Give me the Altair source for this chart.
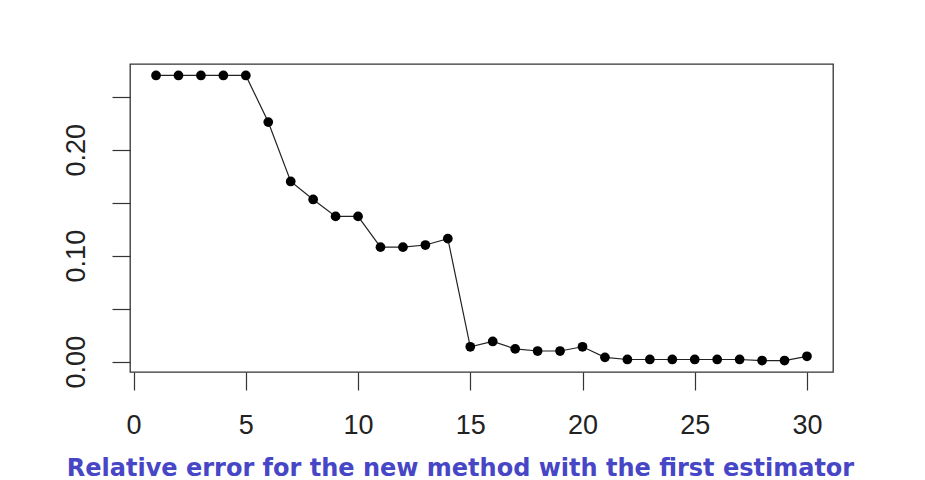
import altair as alt
import pandas as pd

index = list(range(1, 31))
rel_error = [0.270, 0.270, 0.270, 0.270, 0.270, 0.226, 0.170, 0.153, 0.137, 0.137,
             0.108, 0.108, 0.110, 0.116, 0.014, 0.019, 0.012, 0.010, 0.010, 0.014,
             0.004, 0.002, 0.002, 0.002, 0.002, 0.002, 0.002, 0.001, 0.001, 0.005]
x_ticks = [0, 5, 10, 15, 20, 25, 30]
y_ticks = [0.0, 0.05, 0.10, 0.15, 0.20, 0.25]
caption = "Relative error for the new method with the first estimator"

df = pd.DataFrame({"i": index, "err": rel_error})

axis_color = "#333333"
x_enc = alt.X(
    "i:Q",
    scale=alt.Scale(domain=[-0.16, 31.16], nice=False, zero=False),
    axis=alt.Axis(
        values=x_ticks, format="d", grid=False, domain=False,
        tickSize=18, tickWidth=1.2, tickColor=axis_color,
        labelFont="Liberation Sans", labelFontSize=27, labelColor="#222222",
        labelPadding=22, labelFlush=False,
        title=caption, titleFont="DejaVu Sans", titleFontWeight="bold",
        titleFontSize=24, titleColor="#4646c6",
        titleX=330, titleY=103, titleAlign="center", titleBaseline="alphabetic",
    ),
)
y_enc = alt.Y(
    "err:Q",
    scale=alt.Scale(domain=[-0.0098, 0.2808], nice=False, zero=False),
    axis=alt.Axis(
        values=y_ticks, grid=False, domain=False,
        labelExpr="round(datum.value*100) % 10 == 0 ? format(datum.value, '.2f') : ''",
        tickSize=18, tickWidth=1.2, tickColor=axis_color,
        labelFont="Liberation Sans", labelFontSize=27, labelColor="#222222",
        labelAngle=-90, labelAlign="center", labelBaseline="bottom",
        labelPadding=22, labelFlush=False, title=None,
    ),
)

base = alt.Chart(df).encode(x=x_enc, y=y_enc)
line = base.mark_line(color="#222222", strokeWidth=1.2)
pts = base.mark_circle(color="black", size=95, opacity=1)

chart = (line + pts).properties(
    width=703, height=308,
    autosize=alt.AutoSizeParams(type="none"),
    padding={"left": 130, "top": 64, "right": 92, "bottom": 108},
    background="white",
).configure_view(stroke="#333333", strokeWidth=1.3)

chart.save("out.html", embed_options={"renderer": "svg", "actions": False})
